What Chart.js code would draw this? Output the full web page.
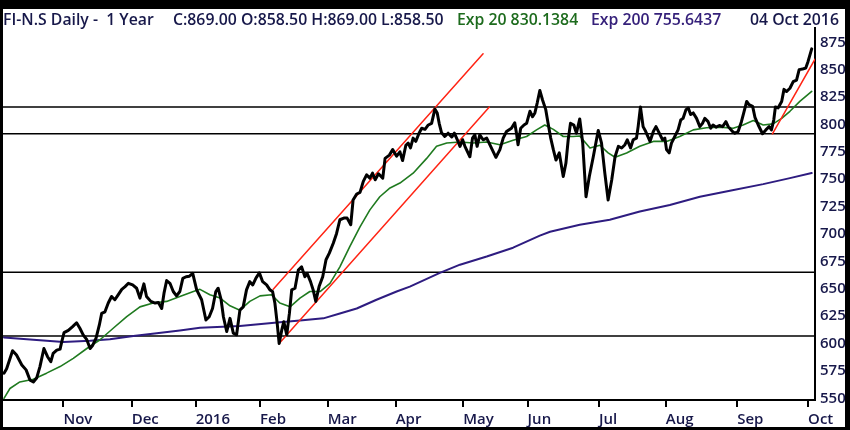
<!DOCTYPE html>
<html>
<head>
<meta charset="utf-8">
<script src="https://cdn.jsdelivr.net/npm/chart.js@4.4.1/dist/chart.umd.min.js"></script>
<style>
  body { margin: 0; background: #000; }
  #frame { position: relative; width: 850px; height: 430px; background: #000; overflow: hidden; }
  #paper { position: absolute; left: 3px; top: 9px; width: 842px; height: 418px; background: #fff; }
  #paper canvas { position: absolute; left: 0; top: 0; }
  .hdr { position: absolute; top: 10px; font: 600 15.8px "Open Sans", sans-serif; color: #17184a; white-space: pre; line-height: 18px; }
</style>
</head>
<body>
<div id="frame">
  <div id="paper"><canvas id="chart" width="842" height="418"></canvas></div>
  <span class="hdr" style="left:3px">FI-N.S Daily -  1 Year</span>
  <span class="hdr" style="left:173px">C:869.00 O:858.50 H:869.00 L:858.50</span>
  <span class="hdr" style="left:457px;color:#1d6b1d">Exp 20 830.1384</span>
  <span class="hdr" style="left:591px;color:#35207a">Exp 200 755.6437</span>
  <span class="hdr" style="left:750px">04 Oct 2016</span>
</div>
<script>
// x values are trading-day numbers counted from the first bar (5 Oct 2015)
const monthTickDay = [18, 38.7, 58.1, 77.6, 98.1, 118.7, 139.2, 158.7, 180.3, 200.6, 222.2, 243.7];
const monthLabels = ["Nov", "Dec", "2016", "Feb", "Mar", "Apr", "May", "Jun", "Jul", "Aug", "Sep", "Oct"];
const priceTicks = [550, 575, 600, 625, 650, 675, 700, 725, 750, 775, 800, 825, 850, 875];

// closing price (turning points)
const priceDay = [0, 0.8, 2.6, 3.8, 5.4, 6.7, 7.9, 8.9, 9.9, 10.9, 12.1, 13.2, 14.2, 14.9, 16.0, 17.0, 17.5, 18.2, 19.5, 20.8,
  22.0, 23.0, 24.0, 25.1, 26.1, 26.9, 27.9, 28.9, 29.6, 30.6, 31.6, 32.6, 33.6, 34.6, 35.7, 36.7, 37.7, 39.0, 40.2, 41.2,
  42.4, 43.2, 44.5, 45.8, 46.8, 47.8, 48.5, 49.3, 50.3, 51.3, 52.3, 53.3, 54.2, 55.2, 56.2, 57.2, 58.4, 59.9, 61.2, 62.2,
  63.2, 64.2, 64.9, 65.8, 66.5, 67.5, 68.5, 69.5, 70.5, 71.5, 72.5, 73.5, 74.5, 75.4, 76.4, 77.4, 78.4, 79.6, 80.6, 81.4,
  82.1, 82.8, 83.4, 84.2, 84.8, 85.7, 86.5, 87.2, 88.2, 89.2, 90.2, 91.2, 91.9, 92.9, 93.7, 94.5, 95.5, 96.6, 97.6, 98.6,
  99.8, 100.8, 101.8, 103.0, 104.0, 105.1, 105.8, 106.9, 107.9, 108.9, 109.9, 110.9, 111.7, 112.5, 113.5, 114.8, 115.5, 116.8, 117.8, 119.0,
  120.0, 120.8, 121.8, 122.5, 123.2, 124.0, 124.8, 125.8, 126.6, 127.6, 128.6, 129.6, 130.6, 131.3, 131.9, 132.6, 133.6, 134.6, 135.7, 136.5,
  137.4, 138.2, 139.0, 139.7, 141.2, 142.0, 142.7, 143.4, 144.2, 145.2, 146.3, 147.5, 149.1, 150.3, 151.3, 152.3, 153.8, 154.8, 155.4, 155.8,
  156.6, 157.6, 158.4, 159.4, 160.2, 160.9, 161.6, 162.4, 163.2, 164.2, 164.9, 165.7, 166.5, 167.3, 168.3, 169.5, 170.3, 171.0, 171.7, 172.7,
  173.5, 174.5, 175.4, 176.4, 177.4, 178.6, 180.1, 181.1, 182.1, 183.1, 184.2, 185.2, 186.2, 187.2, 188.2, 188.9, 189.9, 190.7, 191.7, 192.2,
  192.9, 193.7, 194.5, 195.8, 196.8, 197.6, 198.6, 199.6, 200.3, 200.8, 201.6, 202.3, 203.3, 204.3, 205.1, 205.8, 206.7, 207.4, 208.1, 208.9,
  209.9, 210.9, 211.7, 212.4, 213.4, 214.2, 214.9, 215.8, 216.8, 217.8, 218.8, 219.5, 220.8, 221.5, 222.5, 223.5, 224.2, 225.1, 225.8, 226.9,
  227.6, 228.6, 229.9, 230.9, 231.9, 232.6, 233.3, 233.8, 234.6, 235.7, 236.4, 237.2, 238.2, 239.2, 240.2, 241.0, 242.0, 243.0, 243.7, 244.8];
const priceClose = [573, 577, 593.5, 589.5, 580.5, 576, 566.5, 565, 568.5, 579, 595.5, 588, 583.5, 591, 594, 595, 601.5, 610, 612, 615.5,
  619, 614, 608, 603.5, 595.5, 598.5, 605, 617, 627.5, 629, 637, 643, 640, 644.5, 649.5, 652, 655, 653.5, 650.5, 641.5,
  654.5, 643, 638.5, 637, 637.5, 632, 646, 657.5, 655, 647.5, 643.5, 647.5, 659.5, 661, 661.5, 664, 649, 640, 621.5, 624.5,
  632, 647.5, 650.5, 640, 624.5, 611, 623, 609.5, 608, 630.5, 633.5, 649, 656.5, 653.5, 660, 664.5, 656.5, 653.5, 649, 647.5,
  637, 618.5, 600, 612.5, 620, 608, 627.5, 649, 650.5, 667, 670, 661, 664, 656.5, 649, 638.5, 652, 661, 676.5, 682.5,
  691.5, 700.5, 713, 714.5, 714.5, 708.5, 731, 736.5, 738, 748, 754, 751, 755.5, 749.5, 755, 751, 769, 772, 777, 771,
  775, 767, 781, 783, 778.5, 787.5, 784.5, 792, 796.5, 795.5, 799.5, 801, 814, 810.5, 801, 792.5, 789, 792, 788.5, 792,
  786, 780, 786, 780, 770.5, 787.5, 790.5, 780, 790.5, 786, 787.5, 780, 770, 777, 787.5, 793.5, 796.5, 801.5, 790.5, 781.5,
  796.5, 799.5, 801, 812, 807, 810.5, 819.5, 831, 822.5, 813.5, 801, 787.5, 777, 767.5, 774, 752.5, 764.5, 786, 801, 799.5,
  792, 805, 783, 734, 752.5, 770.5, 794.5, 783, 755.5, 731, 749.5, 770.5, 780, 778.5, 781.5, 786, 778.5, 786, 787.5, 798,
  816, 798, 793.5, 784.5, 793.5, 798, 792, 786, 787.5, 777, 774, 783, 789, 795, 804, 805.5, 813.5, 815, 809, 810.5,
  805.5, 798, 801, 805.5, 802.5, 796.5, 799.5, 797.5, 799, 798, 802.5, 798, 793.5, 792, 793.5, 802.5, 810.5, 821, 818, 816.5,
  806.5, 799.5, 791.5, 795, 798, 795, 804, 816, 815, 821, 832, 830, 833, 839, 840.5, 850, 850.5, 851.5, 857.5, 869];

// 20-day exponential average (green)
const ema20Day = [0, 1.8, 4.8, 8.9, 12.9, 17.0, 21.0, 25.1, 29.1, 33.1, 37.2, 41.2, 45.2, 49.3, 53.3, 57.4, 59.4, 62.4, 65.5, 68.5,
  71.5, 74.5, 77.6, 81.1, 83.6, 86.7, 89.7, 92.7, 95.8, 98.8, 101.8, 104.8, 107.9, 110.9, 113.9, 117.0, 120.0, 124.0, 128.1, 131.1,
  134.2, 138.2, 142.2, 146.3, 150.3, 154.3, 158.4, 161.4, 163.9, 166.5, 169.5, 172.5, 174.5, 177.6, 180.6, 183.1, 185.2, 188.7, 192.7, 196.8,
  200.8, 204.8, 208.9, 212.9, 217.0, 221.0, 224.0, 227.1, 230.1, 233.1, 235.7, 238.2, 241.2, 244.8];
const ema20Val = [550, 559, 565, 567.5, 573, 579, 586.5, 595.5, 603.5, 614, 624.5, 633.5, 637, 638.5, 643, 647.5, 649.5, 644.5, 641.5, 634.5,
  630.5, 638.5, 643.5, 644.5, 637, 633.5, 641.5, 647.5, 647.5, 655, 670, 688.5, 706.5, 722, 734, 742, 746.5, 755.5, 769, 780,
  783, 784, 783, 784, 781.5, 785.5, 789, 795, 799.5, 795.5, 789, 789, 789.5, 778.5, 781, 774, 770, 774, 780, 784.5,
  784.5, 789, 795, 797, 797.5, 796.5, 799.5, 803.5, 799.5, 800.5, 805.5, 812, 821, 830.1];

// 200-day exponential average (purple)
const ema200Day = [0, 8.9, 18.0, 26.1, 32.1, 39.2, 46.3, 53.3, 59.4, 71.5, 83.6, 89.7, 96.8, 101.8, 106.9, 112.9, 119.0, 123.0, 132.1, 138.2,
  146.3, 154.3, 162.4, 165.5, 174.5, 183.6, 192.7, 201.8, 210.9, 220.0, 230.1, 238.2, 244.8];
const ema200Val = [605.5, 603.5, 601.5, 602.5, 604, 607, 609.5, 612, 614.5, 616, 619.5, 621, 623, 627.5, 632, 640, 647.5, 652, 664.5, 672,
  679.5, 687.5, 698.5, 702, 708.5, 713, 720.5, 726.5, 734, 739.5, 745.5, 751, 755.6];

// horizontal support / resistance levels
const levels = [815.8, 791.4, 665.1, 607];

// red trend lines: start and end of each
const trendStartDay = [81.6, 83.4, 232.9];
const trendStartVal = [649.6, 600, 791.4];
const trendEndDay = [145.2, 147.1, 245.8];
const trendEndVal = [864.5, 815.8, 859.6];

const xMin = -0.3, xMax = 245.8, yMin = 548.5, yMax = 888;

function pts(xs, ys) {
  return xs.map((x, i) => ({ x: x, y: ys[i] }));
}

const labelFont = { family: "Open Sans", size: 15, weight: "600" };
const ink = "#17184a";

const datasets = [
  { data: pts(priceDay, priceClose), borderColor: "#000", borderWidth: 3 },
];
trendStartDay.forEach((d, i) => {
  datasets.push({
    data: [{ x: d, y: trendStartVal[i] }, { x: trendEndDay[i], y: trendEndVal[i] }],
    borderColor: "#ff2414", borderWidth: 1.5
  });
});
datasets.push({ data: pts(ema20Day, ema20Val), borderColor: "#1f7a1f", borderWidth: 1.6 });
datasets.push({ data: pts(ema200Day, ema200Val), borderColor: "#2e1c80", borderWidth: 2 });
levels.forEach((lv) => {
  datasets.push({
    data: [{ x: xMin, y: lv }, { x: xMax, y: lv }],
    borderColor: "#000", borderWidth: 1.5
  });
});

new Chart(document.getElementById("chart"), {
  type: "line",
  data: { datasets: datasets },
  options: {
    responsive: false,
    animation: false,
    events: [],
    layout: { padding: { top: 19, left: 0, right: 0, bottom: 0 } },
    elements: { point: { radius: 0 }, line: { tension: 0, borderCapStyle: "round", borderJoinStyle: "round" } },
    plugins: { legend: { display: false }, tooltip: { enabled: false } },
    scales: {
      x: {
        type: "linear",
        min: xMin,
        max: xMax,
        afterBuildTicks: (scale) => { scale.ticks = monthTickDay.map((v) => ({ value: v })); },
        afterFit: (scale) => { scale.height = 27; },
        grid: { display: true, drawOnChartArea: false, drawTicks: true, tickLength: 7, color: "#000", lineWidth: 2 },
        border: { display: true, color: "#000", width: 2 },
        ticks: {
          autoSkip: false, maxRotation: 0, align: "start", padding: 4,
          color: ink, font: labelFont,
          callback: (v, i) => monthLabels[i]
        }
      },
      y: {
        type: "linear",
        position: "right",
        min: yMin,
        max: yMax,
        afterBuildTicks: (scale) => { scale.ticks = priceTicks.map((v) => ({ value: v })); },
        afterFit: (scale) => { scale.width = 30; },
        grid: { display: false, drawTicks: false },
        border: { display: true, color: "#000", width: 2 },
        ticks: { padding: 5, color: ink, font: labelFont }
      }
    }
  }
});
</script>
</body>
</html>
